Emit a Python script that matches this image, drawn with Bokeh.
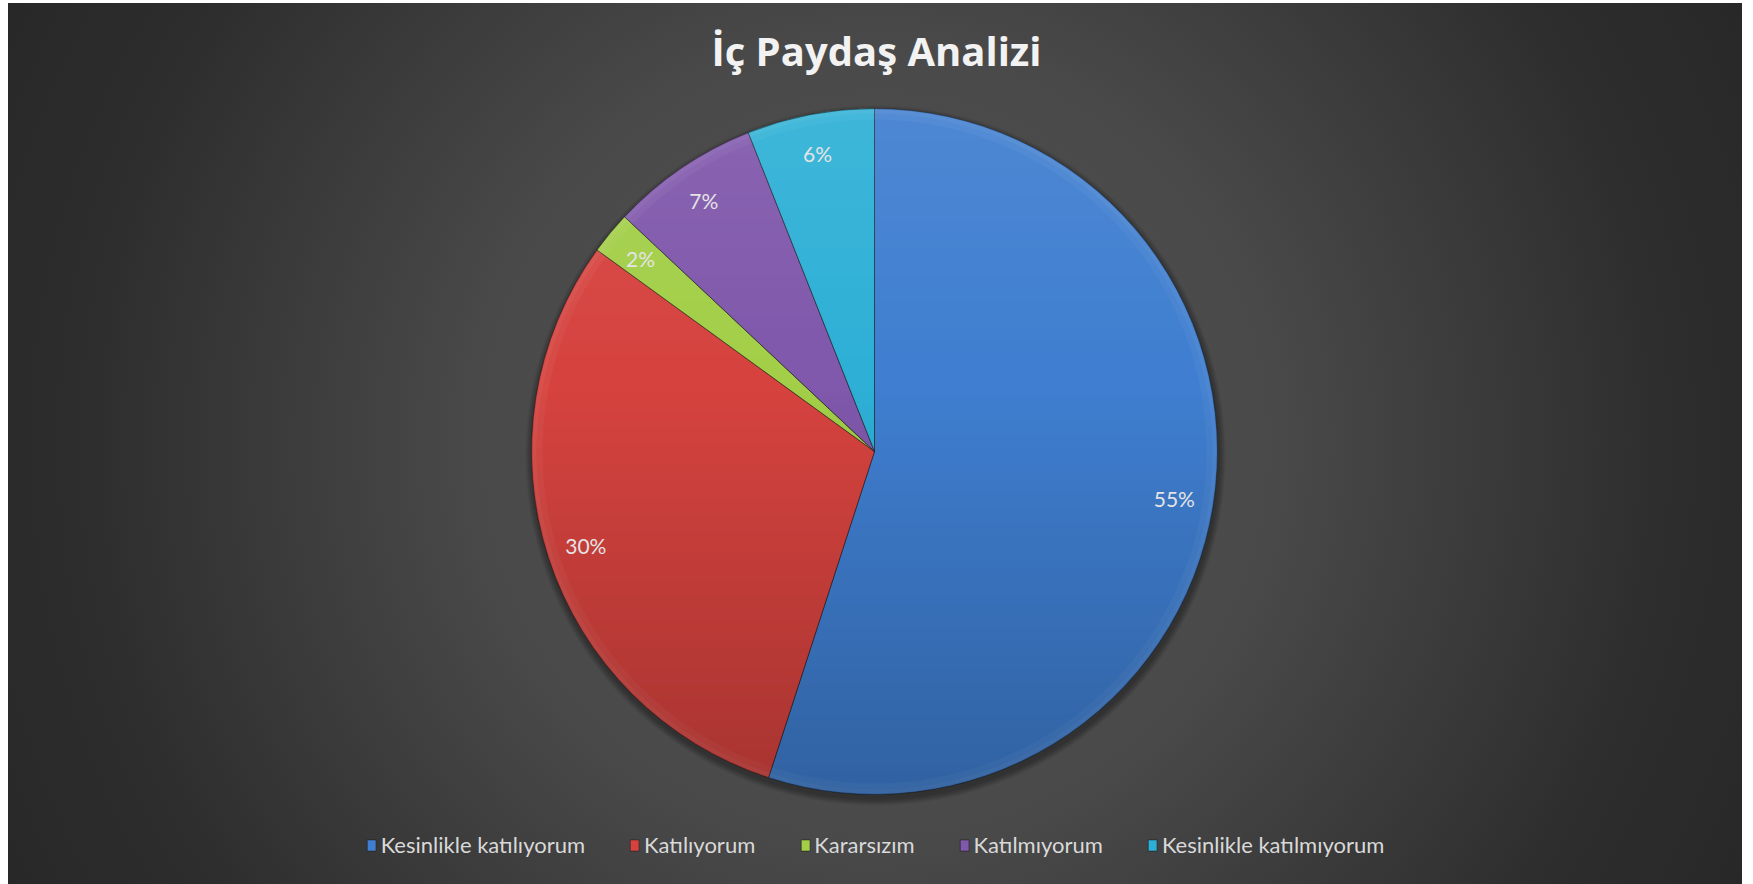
import numpy as np
from bokeh.plotting import figure
from bokeh.models import Range1d, Label, ColumnDataSource
from bokeh.core.properties import value
from bokeh.embed import file_html
from bokeh.resources import INLINE

# ---- data ----
categories = ["Kesinlikle katılıyorum", "Katılıyorum", "Kararsızım", "Katılmıyorum", "Kesinlikle katılmıyorum"]
values = [55, 30, 2, 7, 6]
colors = ["#3f7ed0", "#d6433f", "#a3cf48", "#8058ac", "#2eb0d6"]
title_text = "İç Paydaş Analizi"

W, H = 1734, 881
CX, CY, R = 866, 433, 343

p = figure(width=W, height=H, output_backend="svg", toolbar_location=None,
           x_range=Range1d(0, W), y_range=Range1d(0, H),
           x_axis_location=None, y_axis_location=None, min_border=0)
p.grid.visible = False
p.outline_line_color = None
p.background_fill_alpha = 0
p.border_fill_alpha = 0
p.styles = {"background": "radial-gradient(circle at 50% 50%, #4e4e4e 0%, #4a4a4a 40%, #2d2d2d 82%, #282828 100%)",
            "margin-left": "8px", "margin-top": "3px"}

vals = np.array(values, dtype=float)
frac = vals / vals.sum()
cum_end = np.cumsum(frac) * 2 * np.pi
cum_start = cum_end - frac * 2 * np.pi
start_angle = np.pi / 2 - cum_end
end_angle = np.pi / 2 - cum_start
mid = (cum_start + cum_end) / 2
labels = [f"{round(f*100):.0f}%" for f in frac]
lx = CX + 0.885 * R * np.sin(mid)
ly = CY + 0.885 * R * np.cos(mid)

src = ColumnDataSource(dict(cat=categories, color=colors, start=start_angle, end=end_angle,
                            lx=lx, ly=ly, lab=labels))

# soft drop shadow
for k in range(7):
    p.circle(x=[CX + 1], y=[CY - 4], radius=R + 1 + k, fill_color="black", fill_alpha=0.05,
             line_color=None)

p.wedge(x=CX, y=CY, radius=R, start_angle="start", end_angle="end", fill_color="color",
        line_color="#1c1c1c", line_alpha=0.55, line_width=1, source=src, legend_field="cat")

# bevel rim
p.annular_wedge(x=CX, y=CY, inner_radius=R - 11, outer_radius=R - 1, start_angle="start",
                end_angle="end", fill_color="white", fill_alpha=0.04, line_color=None, source=src)
p.annular_wedge(x=CX, y=CY, inner_radius=R - 5, outer_radius=R - 1, start_angle="start",
                end_angle="end", fill_color="white", fill_alpha=0.04, line_color=None, source=src)

# vertical shading overlay
n = 2 * R + 4
ys, xs = np.mgrid[0:n, 0:n]
xx = xs + 0.5 - n / 2
yy = ys + 0.5 - n / 2
dist = np.hypot(xx, yy)
edge = np.clip(R - dist + 0.5, 0, 1)
t = np.clip((R - yy) / (2 * R), 0, 1)
aw = np.clip(0.08 * (0.4 - t) / 0.4, 0, None)
ab = np.clip(0.22 * (t - 0.4) / 0.6, 0, None)
img = np.zeros((n, n, 4), dtype=np.uint8)
white = t < 0.4
img[..., 0] = np.where(white, 255, 0)
img[..., 1] = np.where(white, 255, 0)
img[..., 2] = np.where(white, 255, 0)
img[..., 3] = (np.where(white, aw, ab) * edge * 255).astype(np.uint8)
p.image_rgba(image=[img.view(np.uint32).reshape(n, n)], x=CX - n / 2, y=CY - n / 2, dw=n, dh=n)

p.text(x="lx", y="ly", text="lab", source=src, text_align="center", text_baseline="middle",
       text_color="#e4e4e4", text_font=value("Lato"), text_font_size="21px")

p.add_layout(Label(x=W / 2 + 1, y=H - 47, text=title_text, text_align="center",
                   text_baseline="middle", text_color="#f2f2f2", text_font="Open Sans",
                   text_font_style="bold", text_font_size="40px"))

lg = p.legend[0]
lg.orientation = "horizontal"
lg.location = "bottom_center"
lg.glyph_width = 11
lg.glyph_height = 14
lg.label_standoff = 4
lg.spacing = 44
lg.padding = 0
lg.margin = 26
lg.background_fill_alpha = 0
lg.border_line_color = None
lg.label_text_color = "#d9d9d9"
lg.label_text_font = "Lato"
lg.label_text_font_size = "22px"
lg.label_height = 14

open("out.html", "w").write(file_html(p, INLINE))
